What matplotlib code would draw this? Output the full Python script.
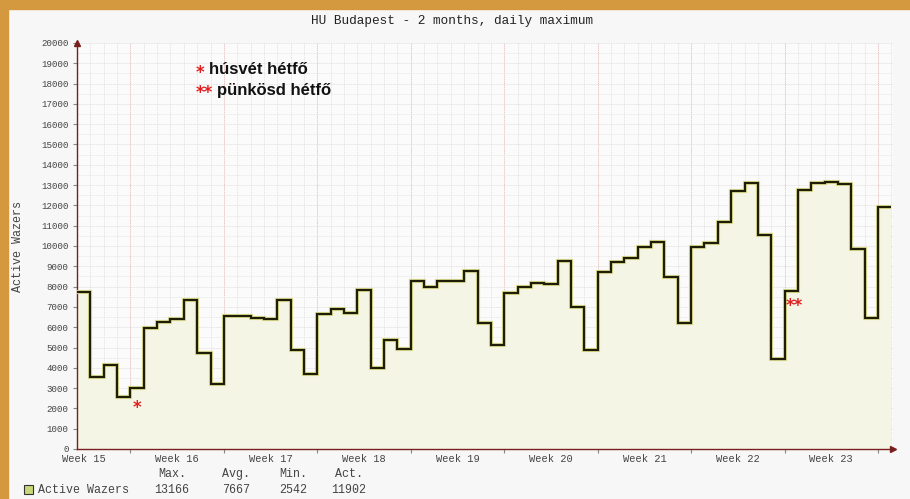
import numpy as np
import matplotlib
matplotlib.use("Agg")
from matplotlib import pyplot as plt
from matplotlib.patches import Rectangle

# napi maximum, 61 nap (week 15 .. week 23)
days_max = [7750, 3550, 4150, 2542, 3000, 5950, 6250, 6400, 7350, 4750,
            3200, 6550, 6550, 6450, 6400, 7350, 4900, 3700, 6650, 6900,
            6700, 7850, 4000, 5350, 4950, 8300, 8000, 8300, 8300, 8750,
            6200, 5100, 7700, 8000, 8200, 8150, 9250, 7000, 4900, 8700,
            9200, 9400, 9950, 10200, 8450, 6200, 9950, 10150, 11200, 12700,
            13100, 10550, 4450, 7800, 12750, 13100, 13166, 13050, 9850, 6450,
            11902]
week_labels = ["Week 15", "Week 16", "Week 17", "Week 18", "Week 19",
               "Week 20", "Week 21", "Week 22", "Week 23"]
stat_names = ["Max.", "Avg.", "Min.", "Act."]
stat_values = ["13166", "7667", "2542", "11902"]
series_name = "Active Wazers"
title = "HU Budapest - 2 months, daily maximum"
notes = [("*", "húsvét hétfő"), ("**", "pünkösd hétfő")]

W, H = 910, 499
mono = "Liberation Mono"
txt_col = "#444444"
axis_col = "#7a1f1f"
star_col = "#e02020"

fig = plt.figure(figsize=(W / 100, H / 100), dpi=100)
fig.patch.set_facecolor("#f7f7f7")

# narancs keret
fig.patches.append(Rectangle((0, 1 - 9 / H), 1, 9 / H, transform=fig.transFigure,
                             color="#d4993f", zorder=0))
fig.patches.append(Rectangle((0, 0), 8 / W, 1, transform=fig.transFigure,
                             color="#d4993f", zorder=0))

x0, x1 = 77, 893
y0, y1 = 449, 43
ax = fig.add_axes([x0 / W, 1 - y0 / H, (x1 - x0) / W, (y0 - y1) / H])
ax.set_facecolor("#fbfbfb")

n = len(days_max)
edges = np.arange(n + 1)
ax.set_xlim(0, (x1 - x0) / 13.35)
ax.set_ylim(0, 20000)

# racs
gx_end = n + 0.1
for d in range(0, n + 1):
    ax.plot([d, d], [0, 20000], color="#dedede", lw=0.6, ls=(0, (1, 1)), zorder=1)
for d in range(4, n + 1, 7):
    ax.plot([d, d], [0, 20000], color="#f0c4c4", lw=0.7, ls=(0, (1, 1)), zorder=1)
for v in range(500, 20001, 500):
    c = "#e0d8d8" if v % 1000 == 0 else "#e4e4e4"
    ax.plot([0, gx_end], [v, v], color=c, lw=0.6, ls=(0, (1, 1)), zorder=1)

ax.stairs(days_max, edges, baseline=0, fill=True, color="#f5f5e6", zorder=2)
ax.stairs(days_max, edges, baseline=None, color="#e0e090", lw=3.0, zorder=3)
ax.stairs(days_max, edges, baseline=None, color="#1e1e08", lw=1.6, zorder=4)

for s in ["top", "right"]:
    ax.spines[s].set_visible(False)
for s in ["left", "bottom"]:
    ax.spines[s].set_color(axis_col)
    ax.spines[s].set_linewidth(1.0)
ax.plot([ax.get_xlim()[1]], [0], marker=">", color=axis_col, ms=5, clip_on=False, zorder=5)
ax.plot([0], [20000], marker="^", color=axis_col, ms=5, clip_on=False, zorder=5)

ax.set_yticks(range(0, 20001, 1000))
ax.set_yticklabels([str(v) for v in range(0, 20001, 1000)],
                   fontfamily=mono, fontsize=6.6, color=txt_col)
ax.set_xticks(np.arange(4, n + 1, 7))
ax.set_xticklabels([])
ax.tick_params(axis="both", length=3, width=0.8, color="#888888", pad=3)
for i, lab in enumerate(week_labels):
    ax.text(7 * i + 0.5, -250, lab, ha="center", va="top",
            fontfamily=mono, fontsize=7.5, color=txt_col)

fig.text(18 / W, 1 - 246 / H, series_name, ha="center", va="center", rotation=90,
         fontfamily=mono, fontsize=8.5, color=txt_col)

fig.text(452 / W, 1 - 21 / H, title, ha="center", va="center",
         fontfamily=mono, fontsize=9.2, color="#222222")

# megjegyzesek
for i, (star, label) in enumerate(notes):
    y = 1 - (70 + 20 * i) / H
    fig.text(196 / W, y - 3 / H, star, ha="left", va="center", color=star_col,
             fontfamily="DejaVu Sans", fontweight="bold", fontsize=12)
    fig.text((209 + 8 * i) / W, y, label, ha="left", va="center", color="#111111",
             fontfamily="Liberation Sans", fontweight="bold", fontsize=12)

ax.text(4.5, 2000, "*", ha="center", va="center", color=star_col,
        fontfamily="DejaVu Sans", fontweight="bold", fontsize=12)
ax.text(53.7, 7050, "**", ha="center", va="center", color=star_col,
        fontfamily="DejaVu Sans", fontweight="bold", fontsize=12)

# legenda
fig.patches.append(Rectangle((24 / W, 1 - 494 / H), 9 / W, 9 / H,
                             transform=fig.transFigure, facecolor="#c8d878",
                             edgecolor="#333333", lw=0.8))
fig.text(38 / W, 1 - 490 / H, series_name, ha="left", va="center",
         fontfamily=mono, fontsize=8.4, color=txt_col)
col_x = [172, 236, 293, 349]
for cx, nm, val in zip(col_x, stat_names, stat_values):
    fig.text(cx / W, 1 - 474 / H, nm, ha="center", va="center",
             fontfamily=mono, fontsize=8.4, color=txt_col)
    fig.text(cx / W, 1 - 490 / H, val, ha="center", va="center",
             fontfamily=mono, fontsize=8.4, color=txt_col)

fig.savefig("out.png", dpi=100, facecolor=fig.get_facecolor())
